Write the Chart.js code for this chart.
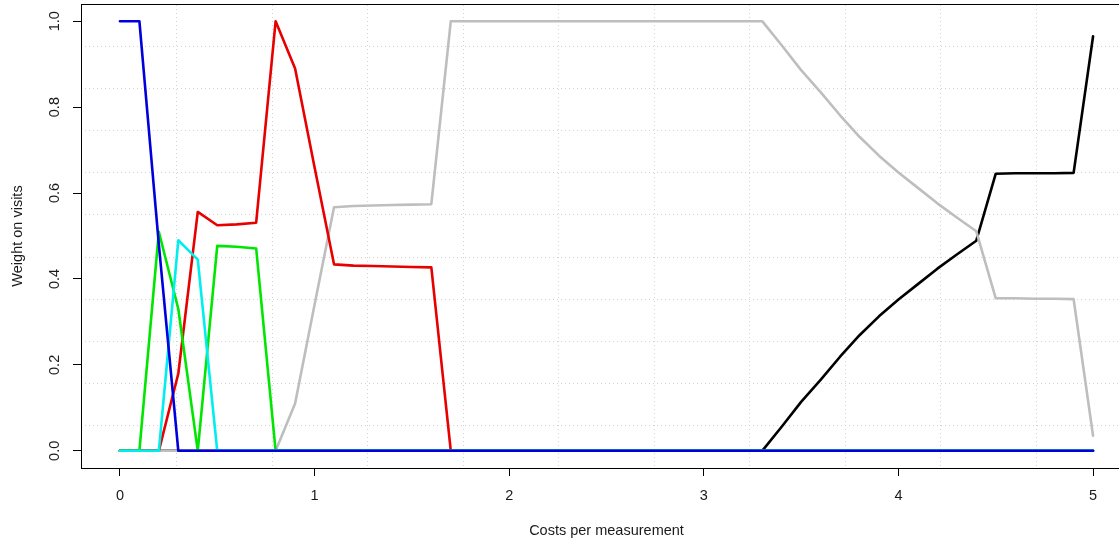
<!DOCTYPE html>
<html>
<head>
<title>Weight on visits</title>
<script src="https://cdn.jsdelivr.net/npm/chart.js@4.4.0/dist/chart.umd.min.js"></script>
<style>
  html, body {
    margin: 0;
    padding: 0;
    overflow: hidden;
    background: #fff;
  }
  #myChart {
    display: block;
  }
</style>
</head>
<body>
<canvas id="myChart" width="1133" height="541"></canvas>

<script>
// costs per measurement
const costs = [
  0, 0.1, 0.2, 0.3, 0.4, 0.5, 0.6, 0.7, 0.8, 0.9,
  1, 1.1, 1.2, 1.3, 1.4, 1.5, 1.6, 1.7, 1.8, 1.9,
  2, 2.1, 2.2, 2.3, 2.4, 2.5, 2.6, 2.7, 2.8, 2.9,
  3, 3.1, 3.2, 3.3, 3.4, 3.5, 3.6, 3.7, 3.8, 3.9,
  4, 4.1, 4.2, 4.3, 4.4, 4.5, 4.6, 4.7, 4.8, 4.9,
  5
];

const blueW = [
  1, 1, 0.48, 0, 0, 0, 0, 0, 0, 0,
  0, 0, 0, 0, 0, 0, 0, 0, 0, 0,
  0, 0, 0, 0, 0, 0, 0, 0, 0, 0,
  0, 0, 0, 0, 0, 0, 0, 0, 0, 0,
  0, 0, 0, 0, 0, 0, 0, 0, 0, 0,
  0
];
const cyanW = [
  0, 0, 0, 0.49, 0.445, 0, 0, 0, 0, 0,
  0, 0, 0, 0, 0, 0, 0, 0, 0, 0,
  0, 0, 0, 0, 0, 0, 0, 0, 0, 0,
  0, 0, 0, 0, 0, 0, 0, 0, 0, 0,
  0, 0, 0, 0, 0, 0, 0, 0, 0, 0,
  0
];
const greenW = [
  0, 0, 0.51, 0.33, 0, 0.477, 0.475, 0.471, 0, 0,
  0, 0, 0, 0, 0, 0, 0, 0, 0, 0,
  0, 0, 0, 0, 0, 0, 0, 0, 0, 0,
  0, 0, 0, 0, 0, 0, 0, 0, 0, 0,
  0, 0, 0, 0, 0, 0, 0, 0, 0, 0,
  0
];
const redW = [
  0, 0, 0, 0.18, 0.556, 0.525, 0.527, 0.531, 1, 0.89,
  0.66, 0.434, 0.431, 0.43, 0.429, 0.428, 0.427, 0, 0, 0,
  0, 0, 0, 0, 0, 0, 0, 0, 0, 0,
  0, 0, 0, 0, 0, 0, 0, 0, 0, 0,
  0, 0, 0, 0, 0, 0, 0, 0, 0, 0,
  0
];
const grayW = [
  0, 0, 0, 0, 0, 0, 0, 0, 0, 0.11,
  0.34, 0.567, 0.57, 0.571, 0.572, 0.573, 0.574, 1, 1, 1,
  1, 1, 1, 1, 1, 1, 1, 1, 1, 1,
  1, 1, 1, 1, 0.944, 0.886, 0.835, 0.781, 0.731, 0.687,
  0.648, 0.612, 0.576, 0.543, 0.511, 0.355, 0.355, 0.354, 0.354, 0.353,
  0.035
];
const blackW = [
  0, 0, 0, 0, 0, 0, 0, 0, 0, 0,
  0, 0, 0, 0, 0, 0, 0, 0, 0, 0,
  0, 0, 0, 0, 0, 0, 0, 0, 0, 0,
  0, 0, 0, 0, 0.056, 0.114, 0.165, 0.219, 0.269, 0.313,
  0.352, 0.388, 0.424, 0.457, 0.489, 0.645, 0.646, 0.646, 0.646, 0.647,
  0.965
];

const xTicks = [0, 1, 2, 3, 4, 5];
const yTicks = [0, 0.2, 0.4, 0.6, 0.8, 1.0];
// R grid(): 11 equal cells over the plot region
const xGrid = [0.2909, 0.7818, 1.2727, 1.7636, 2.2545, 2.7455, 3.2364, 3.7273, 4.2182, 4.7091];
const yGrid = [0.0582, 0.1564, 0.2545, 0.3527, 0.4509, 0.5491, 0.6473, 0.7455, 0.8436, 0.9418];

Chart.defaults.font.family = "'Liberation Sans', Arial, sans-serif";
Chart.defaults.font.size = 14.5;
Chart.defaults.color = '#1a1a1a';

function series(label, values, color) {
  return {
    label: label,
    data: costs.map((c, i) => ({ x: c, y: values[i] })),
    borderColor: color,
    backgroundColor: color,
    borderWidth: 2.6,
    pointRadius: 0,
    tension: 0,
    fill: false,
    borderCapStyle: 'round',
    borderJoinStyle: 'round'
  };
}

// fixed axis sizes, and no extra padding from the rotated labels
function fitTo(w, h) {
  return (s) => {
    if (w !== null) s.width = w;
    if (h !== null) s.height = h;
    s.paddingTop = 0;
    s.paddingBottom = 0;
    s.paddingLeft = 0;
    s.paddingRight = 0;
  };
}

const axisFont = { family: "'Liberation Sans', Arial, sans-serif", size: 14.5 };

const ctx = document.getElementById('myChart');
const myChart = new Chart(ctx, {
  type: 'line',
  data: {
    // first dataset is drawn on top
    datasets: [
      series('blue', blueW, '#0000DD'),
      series('cyan', cyanW, '#00EEEE'),
      series('green', greenW, '#00E600'),
      series('red', redW, '#E60000'),
      series('gray', grayW, '#BEBEBE'),
      series('black', blackW, '#000000')
    ]
  },
  options: {
    responsive: false,
    animation: false,
    layout: { padding: { top: 4, right: 1, bottom: 0, left: 0 } },
    plugins: {
      legend: { display: false },
      tooltip: { enabled: false }
    },
    scales: {
      x: {
        type: 'linear',
        position: 'bottom',
        min: -0.2,
        max: 5.2,
        afterBuildTicks: (s) => { s.ticks = xTicks.map(v => ({ value: v })); },
        afterFit: fitTo(null, 73),
        grid: { drawOnChartArea: false, drawTicks: true, tickLength: 8, tickColor: '#000', tickWidth: 1 },
        border: { display: true, color: '#000', width: 1 },
        ticks: { padding: 11, maxRotation: 0, font: axisFont, callback: (v) => String(v) },
        title: { display: true, text: 'Costs per measurement', font: axisFont, padding: { top: 0, bottom: 1.5 } }
      },
      y: {
        type: 'linear',
        position: 'left',
        min: -0.04,
        max: 1.04,
        afterBuildTicks: (s) => { s.ticks = yTicks.map(v => ({ value: v })); },
        afterFit: fitTo(81, null),
        grid: { drawOnChartArea: false, drawTicks: true, tickLength: 8, tickColor: '#000', tickWidth: 1 },
        border: { display: true, color: '#000', width: 1 },
        ticks: { padding: 8, minRotation: 90, maxRotation: 90, crossAlign: 'center', font: axisFont, callback: (v) => v.toFixed(1) },
        title: { display: true, text: 'Weight on visits', font: axisFont, padding: { top: 9.3, bottom: 0 } }
      },
      // dotted grid, not tied to the tick marks
      x2: {
        type: 'linear',
        position: 'top',
        min: -0.2,
        max: 5.2,
        afterBuildTicks: (s) => { s.ticks = xGrid.map(v => ({ value: v })); },
        afterFit: fitTo(null, 0),
        grid: { drawOnChartArea: true, drawTicks: false, color: '#D3D3D3', lineWidth: 1 },
        border: { display: true, color: '#000', width: 1, dash: [1, 3] },
        ticks: { display: false }
      },
      y2: {
        type: 'linear',
        position: 'right',
        min: -0.04,
        max: 1.04,
        afterBuildTicks: (s) => { s.ticks = yGrid.map(v => ({ value: v })); },
        afterFit: fitTo(0, null),
        grid: { drawOnChartArea: true, drawTicks: false, color: '#D3D3D3', lineWidth: 1 },
        border: { display: true, color: '#000', width: 1, dash: [1, 3] },
        ticks: { display: false }
      }
    }
  }
});
</script>
</body>
</html>
